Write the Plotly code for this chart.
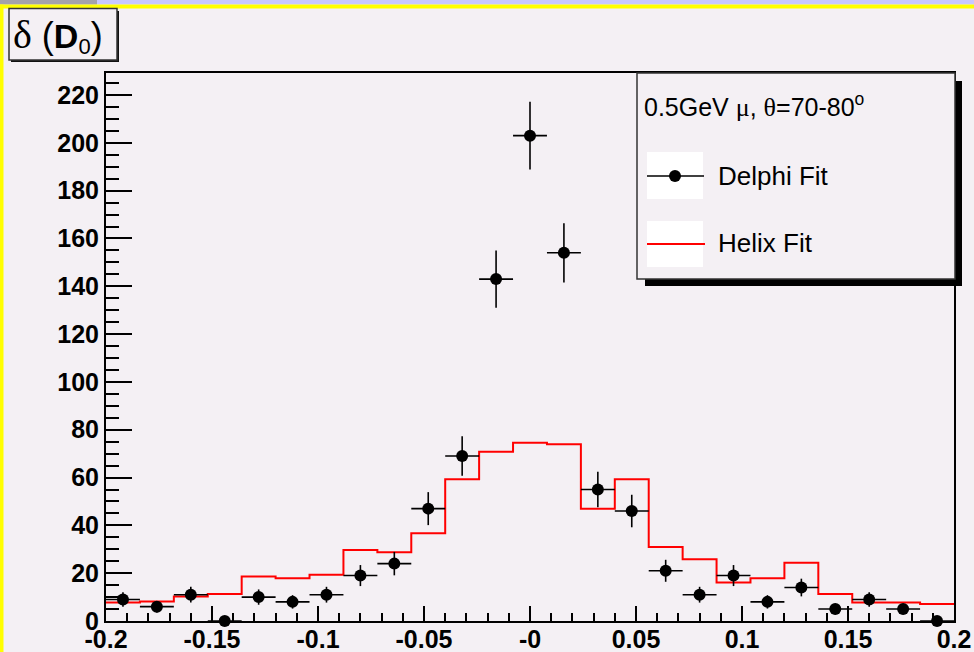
import plotly.graph_objects as go

# ---- data -------------------------------------------------------------
bin_centers = [-0.192, -0.176, -0.160, -0.144, -0.128, -0.112, -0.096, -0.080,
               -0.064, -0.048, -0.032, -0.016, 0.000, 0.016, 0.032, 0.048,
               0.064, 0.080, 0.096, 0.112, 0.128, 0.144, 0.160, 0.176, 0.192]
bin_half_width = 0.008

delphi_counts = [9, 6, 11, 0, 10, 8, 11, 19, 24, 47, 69, 143, 203, 154,
                 55, 46, 21, 11, 19, 8, 14, 5, 9, 5, 0]
delphi_errors = [3.0, 2.4, 3.3, 0.0, 3.2, 2.8, 3.3, 4.4, 4.9, 6.9, 8.3, 12.0,
                 14.2, 12.4, 7.4, 6.8, 4.6, 3.3, 4.4, 2.8, 3.7, 2.2, 3.0, 2.2, 0.0]

helix_counts = [7.7, 8.2, 10.2, 11.3, 18.6, 17.9, 19.3, 29.7, 28.8, 36.7,
                59.3, 70.8, 74.6, 73.9, 46.9, 59.3, 30.9, 25.8, 16.1, 17.9,
                24.4, 11.3, 7.7, 7.7, 7.1]

x_tick_vals = [-0.2, -0.15, -0.1, -0.05, 0.0, 0.05, 0.1, 0.15, 0.2]
x_tick_text = ["-0.2", "-0.15", "-0.1", "-0.05", "-0", "0.05", "0.1", "0.15", "0.2"]
y_tick_vals = [0, 20, 40, 60, 80, 100, 120, 140, 160, 180, 200, 220]

# ---- canvas geometry (pixels) ----------------------------------------
WIDTH, HEIGHT = 974, 652
L, R, T, B = 106, 954, 73, 621
PW, PH = R - L, B - T

BG = "#F4F0F4"
FONT = "Liberation Sans, Arial, Helvetica, sans-serif"
SERIF = "Liberation Serif, Times New Roman, serif"


def px(xp):
    return (xp - L) / PW


def py(yp):
    return (B - yp) / PH


# step-histogram outline from bin edges
edges = [c - bin_half_width for c in bin_centers] + [bin_centers[-1] + bin_half_width]
helix_steps = helix_counts + [helix_counts[-1]]

fig = go.Figure()

fig.add_trace(go.Scatter(
    x=edges, y=helix_steps, mode="lines", line_shape="hv",
    line=dict(color="#FF0000", width=2), name="Helix Fit",
    hoverinfo="skip",
))

fig.add_trace(go.Scatter(
    x=bin_centers, y=delphi_counts, mode="markers", name="Delphi Fit",
    marker=dict(color="black", size=12, symbol="circle"),
    cliponaxis=False,
    error_x=dict(type="constant", value=bin_half_width, width=0,
                 thickness=1.6, color="black"),
    error_y=dict(type="data", array=delphi_errors, width=0,
                 thickness=1.6, color="black"),
))

shapes = []

# window decorations around the canvas
shapes.append(dict(type="rect", xref="paper", yref="paper",
                   x0=px(0), x1=px(WIDTH), y0=py(0), y1=py(4.5),
                   fillcolor="#C8C8FF", line_width=0, layer="below"))
shapes.append(dict(type="rect", xref="paper", yref="paper",
                   x0=px(0), x1=px(97), y0=py(0), y1=py(4.5),
                   fillcolor="#A4A2AA", line_width=0, layer="below"))
shapes.append(dict(type="rect", xref="paper", yref="paper",
                   x0=px(0), x1=px(WIDTH), y0=py(4.5), y1=py(8.5),
                   fillcolor="#FFFF00", line_width=0, layer="below"))
shapes.append(dict(type="rect", xref="paper", yref="paper",
                   x0=px(0), x1=px(3.5), y0=py(4.5), y1=py(HEIGHT),
                   fillcolor="#FFFF00", line_width=0, layer="below"))

# title box with drop shadow
shapes.append(dict(type="rect", xref="paper", yref="paper",
                   x0=px(11), x1=px(119), y0=py(62), y1=py(11),
                   fillcolor="#111111", line_width=0, layer="below"))
shapes.append(dict(type="rect", xref="paper", yref="paper",
                   x0=px(9), x1=px(117), y0=py(60), y1=py(8.5),
                   fillcolor=BG, line=dict(color="#333333", width=1.5),
                   layer="below"))

# legend box with drop shadow
shapes.append(dict(type="rect", xref="paper", yref="paper",
                   x0=px(645), x1=px(962), y0=py(286), y1=py(81),
                   fillcolor="#000000", line_width=0, layer="above"))
shapes.append(dict(type="rect", xref="paper", yref="paper",
                   x0=px(637), x1=px(955), y0=py(279), y1=py(73),
                   fillcolor=BG, line=dict(color="#333333", width=1.5),
                   layer="above"))
# legend entry swatches
for top, bot in [(152, 199), (221, 267)]:
    shapes.append(dict(type="rect", xref="paper", yref="paper",
                       x0=px(647), x1=px(703), y0=py(bot), y1=py(top),
                       fillcolor="white", line_width=0, layer="above"))
shapes.append(dict(type="line", xref="paper", yref="paper",
                   x0=px(647), x1=px(704), y0=py(176), y1=py(176),
                   line=dict(color="black", width=1.5), layer="above"))
shapes.append(dict(type="circle", xref="paper", yref="paper",
                   x0=px(669), x1=px(681), y0=py(182), y1=py(170),
                   fillcolor="black", line=dict(color="black", width=0),
                   layer="above"))
shapes.append(dict(type="line", xref="paper", yref="paper",
                   x0=px(647), x1=px(705), y0=py(244), y1=py(244),
                   line=dict(color="#FF0000", width=1.8), layer="above"))

annotations = [
    dict(xref="paper", yref="paper", x=px(11), y=py(35),
         xanchor="left", yanchor="middle", showarrow=False,
         text=(f"<span style='font-family:{SERIF};font-size:40px'>δ</span>"
               "<span style='font-size:36px'> (</span>"
               "<span style='font-size:34px;font-weight:bold'>D</span>"
               "<sub><span style='font-size:22px'>0</span></sub>"
               "<span style='font-size:36px'>)</span>"),
         font=dict(family=FONT, size=30, color="black")),
    dict(xref="paper", yref="paper", x=px(642), y=py(105),
         xanchor="left", yanchor="middle", showarrow=False,
         text=(f"0.5GeV <span style='font-family:{SERIF};font-size:26px'>μ</span>, "
               f"<span style='font-family:{SERIF};font-size:26px'>θ</span>=70-80<sup>o</sup>"),
         font=dict(family=FONT, size=25, color="black")),
    dict(xref="paper", yref="paper", x=px(716), y=py(176),
         xanchor="left", yanchor="middle", showarrow=False,
         text="Delphi Fit", font=dict(family=FONT, size=26, color="black")),
    dict(xref="paper", yref="paper", x=px(716), y=py(243),
         xanchor="left", yanchor="middle", showarrow=False,
         text="Helix Fit", font=dict(family=FONT, size=26, color="black")),
]

axis_font = dict(family=FONT, size=25, color="black", weight="bold")

fig.update_layout(
    width=WIDTH, height=HEIGHT,
    margin=dict(l=L, r=WIDTH - R, t=T, b=HEIGHT - B, pad=0, autoexpand=False),
    paper_bgcolor=BG, plot_bgcolor=BG,
    showlegend=False,
    shapes=shapes, annotations=annotations,
    xaxis=dict(
        range=[-0.2, 0.2], tickmode="array", tickvals=x_tick_vals,
        ticktext=x_tick_text, ticks="inside", ticklen=15, tickwidth=1.5,
        tickcolor="black", showgrid=False, zeroline=False, automargin=False,
        showline=True, linecolor="black", linewidth=2, mirror=True,
        tickfont=axis_font, ticklabelstandoff=-5,
        minor=dict(tickmode="linear", tick0=-0.2, dtick=0.01, ticks="inside",
                   ticklen=8, tickwidth=1.5, tickcolor="black", showgrid=False),
    ),
    yaxis=dict(
        range=[0, 229.2], tickmode="array", tickvals=y_tick_vals,
        ticks="inside", ticklen=26, tickwidth=1.5, tickcolor="black",
        showgrid=False, zeroline=False, automargin=False,
        showline=True, linecolor="black", linewidth=2, mirror=True,
        tickfont=axis_font,
        minor=dict(tickmode="linear", tick0=0, dtick=5, ticks="inside",
                   ticklen=13, tickwidth=1.5, tickcolor="black", showgrid=False),
    ),
)

fig.write_html("out.html")
